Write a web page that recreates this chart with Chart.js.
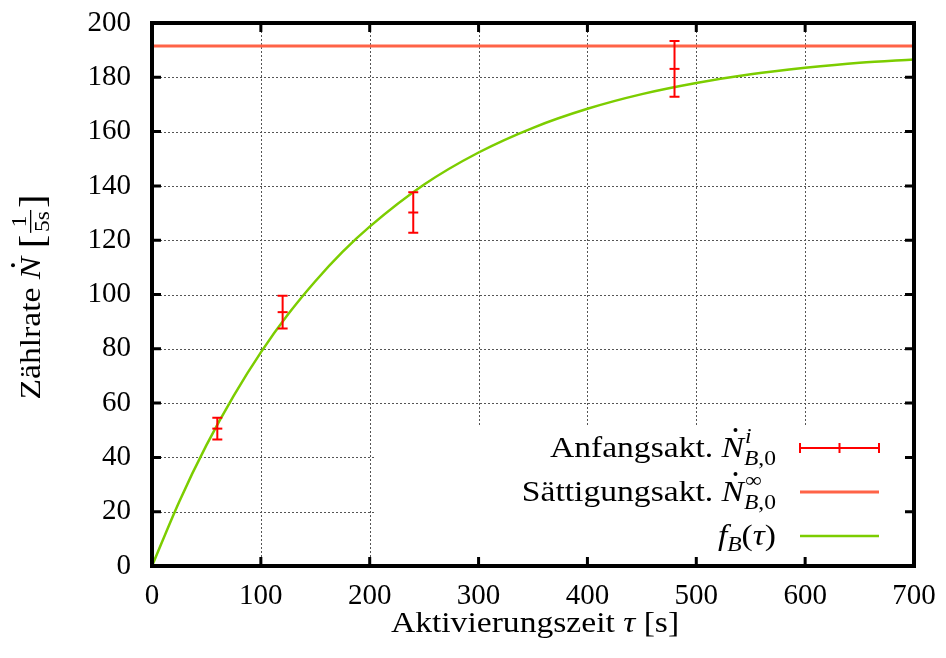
<!DOCTYPE html>
<html>
<head>
<meta charset="utf-8">
<script src="https://cdn.jsdelivr.net/npm/chart.js@4.4.1/dist/chart.umd.min.js"></script>
<style>
  html,body{margin:0;padding:0;background:#fff;}
  canvas{display:block;}
</style>
</head>
<body>
<canvas id="c" width="946" height="658"></canvas>
<script>
// measured activity with errors
const tauPoints = [60, 120, 240, 480];
const ratePoints = [50.6, 93.5, 130.2, 183.1];
const rateErrors = [4.0, 6.0, 7.5, 10.3];

// saturation level
const saturation = 191.5;

// fit curve f_B(tau)
const curveTau = [0, 25, 50, 75, 100, 125, 150, 175, 200, 250, 300, 350, 400, 450, 500, 550, 600, 650, 700];
const curveRate = [0, 23.7, 44.5, 62.7, 78.7, 92.7, 104.9, 115.7, 125.0, 140.5, 152.3, 161.4, 168.4, 173.8, 177.9, 181.1, 183.5, 185.4, 186.6];

const xTicks = [0, 100, 200, 300, 400, 500, 600, 700];
const yTicks = [0, 20, 40, 60, 80, 100, 120, 140, 160, 180, 200];

const RED = '#ff0000', SAT = '#ff6347', GREEN = '#7ccd00';
const FAM = '"Liberation Serif", serif';
const R = '30px ' + FAM, I = 'italic 30px ' + FAM;
const SR = '21px ' + FAM, SI = 'italic 21px ' + FAM;
const BR = '36px ' + FAM;
const SX = 1.12; // widen glyphs a bit, closer to the TeX font

// mixed text helper: runs of {t,f,dy,dot} or {sup:[],sub:[]} or {frac:[a,b]}
function runWidth(ctx, r){
  if(r.sup){ return Math.max(runsWidth(ctx, r.sup), runsWidth(ctx, r.sub)); }
  if(r.frac){ ctx.font = SR; return Math.max(ctx.measureText(r.frac[0]).width, ctx.measureText(r.frac[1]).width)*SX + 6; }
  ctx.font = r.f; return ctx.measureText(r.t).width*SX;
}
function runsWidth(ctx, runs){ return runs.reduce((s,r)=>s+runWidth(ctx,r),0); }
function txt(ctx, t, x, y){
  ctx.save(); ctx.translate(x, y); ctx.scale(SX, 1); ctx.fillText(t, 0, 0); ctx.restore();
}
function drawRuns(ctx, runs, x, y){
  runs.forEach(r=>{
    const w = runWidth(ctx, r);
    if(r.sup){
      drawRuns(ctx, r.sup, x+1, y-14);
      drawRuns(ctx, r.sub, x, y+8);
    } else if(r.frac){
      ctx.font = SR;
      [r.frac[0], r.frac[1]].forEach((s,k)=>{
        const sw = ctx.measureText(s).width*SX;
        txt(ctx, s, x+(w-sw)/2, k ? y+9 : y-14);
      });
      ctx.fillRect(x+2, y-10, w-4, 1.3);
    } else {
      ctx.font = r.f;
      txt(ctx, r.t, x, y+(r.dy||0));
      if(r.dot){ ctx.beginPath(); ctx.arc(x+w*0.62, y-27, 2, 0, Math.PI*2); ctx.fill(); }
    }
    x += w;
  });
}
function Ndot(){ return {t:'N', f:I, dot:true}; }

const legendItems = [
  {runs:[{t:'Anfangsakt. ',f:R}, Ndot(), {sup:[{t:'i',f:SI}], sub:[{t:'B',f:SI},{t:',0',f:SR}]}], kind:'err'},
  {runs:[{t:'Sättigungsakt. ',f:R}, Ndot(), {sup:[{t:'∞',f:SR}], sub:[{t:'B',f:SI},{t:',0',f:SR}]}], kind:'sat'},
  {runs:[{t:'f',f:I}, {t:'B',f:SI,dy:6}, {t:'(',f:R}, {t:'τ',f:I}, {t:')',f:R}], kind:'fit'}
];

const gnuplotLook = {
  id:'gnuplotLook',
  beforeDatasetsDraw(chart){
    const {ctx, chartArea:a, scales:{x, y}} = chart;
    // legend box hides the grid
    const hole = {l: 376, t: 425, r: 897, b: a.bottom};
    ctx.save();
    ctx.strokeStyle = '#555'; ctx.lineWidth = 1; ctx.setLineDash([2,2]);
    xTicks.slice(1,-1).forEach(v=>{
      const px = Math.round(x.getPixelForValue(v))+0.5;
      ctx.beginPath(); ctx.moveTo(px, a.top);
      ctx.lineTo(px, (px>hole.l && px<hole.r) ? hole.t : a.bottom); ctx.stroke();
    });
    yTicks.slice(1,-1).forEach(v=>{
      const py = Math.round(y.getPixelForValue(v))+0.5;
      const inHole = py>hole.t;
      ctx.beginPath(); ctx.moveTo(a.left, py); ctx.lineTo(inHole ? hole.l : a.right, py); ctx.stroke();
      if(inHole){ ctx.beginPath(); ctx.moveTo(hole.r+8, py); ctx.lineTo(a.right, py); ctx.stroke(); }
    });
    ctx.restore();
  },
  afterDatasetsDraw(chart){
    const {ctx, chartArea:a, scales:{x, y}} = chart;
    ctx.save();
    // error bars
    ctx.strokeStyle = RED; ctx.lineWidth = 2;
    tauPoints.forEach((t,i)=>{
      const px = x.getPixelForValue(t);
      const y1 = y.getPixelForValue(ratePoints[i]-rateErrors[i]);
      const y2 = y.getPixelForValue(ratePoints[i]+rateErrors[i]);
      ctx.beginPath();
      ctx.moveTo(px, y1); ctx.lineTo(px, y2);
      ctx.moveTo(px-5, y1); ctx.lineTo(px+5, y1);
      ctx.moveTo(px-5, y2); ctx.lineTo(px+5, y2);
      ctx.stroke();
    });
    // frame and inward ticks
    ctx.strokeStyle = '#000'; ctx.lineWidth = 4;
    ctx.strokeRect(a.left, a.top, a.right-a.left, a.bottom-a.top);
    ctx.lineWidth = 3;
    ctx.beginPath();
    xTicks.slice(1,-1).forEach(v=>{
      const px = x.getPixelForValue(v);
      ctx.moveTo(px, a.bottom); ctx.lineTo(px, a.bottom-9);
      ctx.moveTo(px, a.top); ctx.lineTo(px, a.top+9);
    });
    yTicks.slice(1,-1).forEach(v=>{
      const py = y.getPixelForValue(v);
      ctx.moveTo(a.left, py); ctx.lineTo(a.left+9, py);
      ctx.moveTo(a.right, py); ctx.lineTo(a.right-9, py);
    });
    ctx.stroke();

    // legend
    ctx.fillStyle = '#000'; ctx.textAlign = 'left'; ctx.textBaseline = 'alphabetic';
    const rowY = [448, 492, 536];
    legendItems.forEach((it,i)=>{
      const w = runsWidth(ctx, it.runs);
      drawRuns(ctx, it.runs, 776-w, rowY[i]+9);
      const sy = rowY[i];
      ctx.beginPath();
      if(it.kind==='err'){
        ctx.strokeStyle = RED; ctx.lineWidth = 2;
        ctx.moveTo(800, sy); ctx.lineTo(879, sy);
        [800, 839.5, 879].forEach(sx=>{ ctx.moveTo(sx, sy-5); ctx.lineTo(sx, sy+5); });
      } else {
        ctx.strokeStyle = it.kind==='sat' ? SAT : GREEN;
        ctx.lineWidth = it.kind==='sat' ? 3 : 2.5;
        ctx.moveTo(800, sy); ctx.lineTo(879, sy);
      }
      ctx.stroke();
    });

    // axis titles
    ctx.fillStyle = '#000';
    const xt = [{t:'Aktivierungszeit ',f:R},{t:'τ',f:I},{t:' [s]',f:R}];
    drawRuns(ctx, xt, 535-runsWidth(ctx, xt)/2, 632);
    const yt = [{t:'Zählrate ',f:R}, Ndot(), {t:' ',f:R}, {t:'[',f:BR,dy:4}, {frac:['1','5s']}, {t:']',f:BR,dy:4}];
    ctx.translate(40, 297); ctx.rotate(-Math.PI/2);
    drawRuns(ctx, yt, -runsWidth(ctx, yt)/2, 0);
    ctx.restore();
  }
};

new Chart(document.getElementById('c'), {
  type:'scatter',
  data:{
    datasets:[
      {label:'Anfangsakt.', data:tauPoints.map((t,i)=>({x:t, y:ratePoints[i]})),
       pointStyle:'line', pointRadius:5, borderColor:RED, backgroundColor:RED, borderWidth:2, order:0},
      {label:'Sättigungsakt.', type:'line', data:[{x:0,y:saturation},{x:700,y:saturation}],
       borderColor:SAT, borderWidth:3, pointRadius:0, order:2},
      {label:'f_B', type:'line', data:curveTau.map((t,i)=>({x:t, y:curveRate[i]})),
       borderColor:GREEN, borderWidth:2.5, pointRadius:0, cubicInterpolationMode:'monotone', order:1}
    ]
  },
  options:{
    responsive:false, animation:false, devicePixelRatio:1,
    layout:{padding:{top:23, right:32, left:0, bottom:0}},
    plugins:{legend:{display:false}, tooltip:{enabled:false}},
    scales:{
      x:{type:'linear', min:0, max:700,
         afterBuildTicks:s=>{ s.ticks = xTicks.map(v=>({value:v})); },
         afterFit:s=>{ s.height = 92; s.paddingLeft = 0; s.paddingRight = 0; },
         grid:{display:false, drawTicks:false}, border:{display:false},
         ticks:{color:'#000', font:{family:'Liberation Serif', size:29}, padding:13, maxRotation:0}},
      y:{type:'linear', min:0, max:200,
         afterBuildTicks:s=>{ s.ticks = yTicks.map(v=>({value:v})); },
         afterFit:s=>{ s.width = 152; s.paddingTop = 0; s.paddingBottom = 0; },
         grid:{display:false, drawTicks:false}, border:{display:false},
         ticks:{color:'#000', font:{family:'Liberation Serif', size:29}, padding:21}}
    }
  },
  plugins:[gnuplotLook]
});
</script>
</body>
</html>
